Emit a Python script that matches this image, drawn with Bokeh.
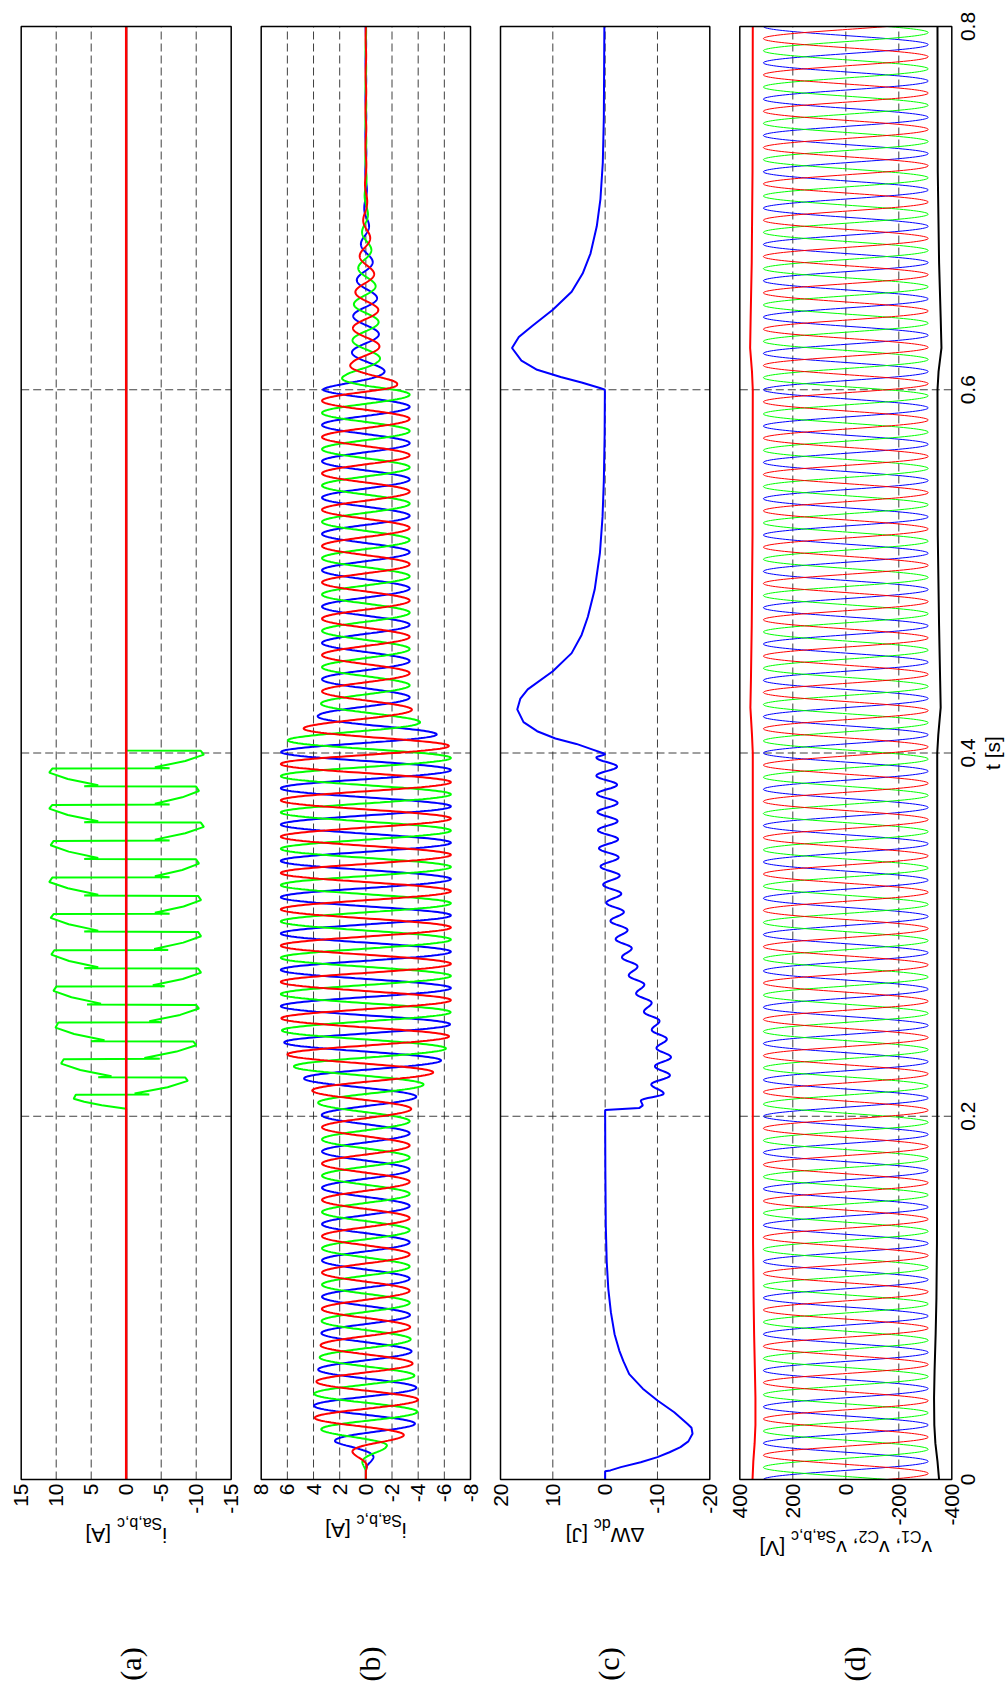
import math
import numpy as np
from bokeh.plotting import figure
from bokeh.models import Range1d
from bokeh.core.properties import value
from bokeh.embed import file_html
from bokeh.resources import INLINE

# ---------------- axes / ticks ----------------
t_ticks = [0, 0.2, 0.4, 0.6, 0.8]
t_tick_labels = ["0", "0.2", "0.4", "0.6", "0.8"]
a_ticks = [15, 10, 5, 0, -5, -10, -15]
b_ticks = [8, 6, 4, 2, 0, -2, -4, -6, -8]
c_ticks = [20, 10, 0, -10, -20]
d_ticks = [400, 200, 0, -200, -400]

# ---------------- (a) source currents ----------------
a_red_t = [0.0, 0.8]
a_red_v = [0.0, 0.0]
a_blue_t = [0.0, 0.8]
a_blue_v = [0.0, 0.0]
a_green_start = 0.2041
a_first_arc_t = [0.2060, 0.2080, 0.2096]
a_first_arc_v = [3.5, 6.0, 7.5]
a_jump_t = [0.2120, 0.2215, 0.2316, 0.2413, 0.2518, 0.2615, 0.2716, 0.2815, 0.2916,
            0.3017, 0.3115, 0.3215, 0.3316, 0.3417, 0.3518, 0.3619, 0.3716, 0.3817, 0.3916]
a_green_end = 0.4014
a_peak = [8.8, 9.3, 10.0, 10.1, 10.4, 10.4, 10.7, 10.7, 10.7, 10.8,
          10.7, 11.0, 10.4, 10.8, 11.1, 11.0, 10.4, 11.0, 11.1]
a_post = [3.3, 4.0, 4.8, 5.0, 5.0, 5.6, 5.5, 6.0, 6.0, 6.0,
          6.2, 6.0, 6.2, 6.0, 6.2, 6.0, 6.2, 6.0, 6.2]
a_hook = [1.2, 2.1, 2.6, 3.1, 3.3, 3.6, 3.8, 4.0, 4.0, 4.0,
          4.1, 4.0, 4.1, 4.0, 4.1, 4.0, 4.1, 4.0, 4.1]

# ---------------- (b) source currents: envelope ----------------
b_env_t = [0, 0.005, 0.008, 0.011, 0.014, 0.018, 0.0206, 0.0242, 0.027, 0.0297, 0.0334,
           0.04, 0.045, 0.053, 0.065, 0.08, 0.1, 0.2, 0.205, 0.213, 0.221, 0.226, 0.234,
           0.245, 0.26, 0.4, 0.405, 0.41, 0.416, 0.421, 0.43, 0.6, 0.603, 0.608, 0.615,
           0.63, 0.645, 0.66, 0.675, 0.69, 0.70, 0.72, 0.8]
b_env_amp = [0, 0, 0.2, 0.5, 0.9, 1.6, 2.3, 2.9, 3.35, 3.7, 3.9,
             3.95, 4.0, 3.8, 3.55, 3.4, 3.35, 3.35, 3.5, 4.0, 4.75, 5.4, 6.0,
             6.4, 6.5, 6.5, 6.3, 5.5, 4.3, 3.6, 3.35, 3.35, 2.5, 1.6, 1.1,
             1.0, 0.95, 0.7, 0.45, 0.25, 0.12, 0.04, 0.02]
b_freq = 50.0
b_delay = 0.0006

# ---------------- (c) dc-link energy deviation ----------------
c_start_t = [0, 0.0045, 0.005, 0.0068, 0.0095, 0.0123, 0.015, 0.0178, 0.021, 0.0252, 0.0285,
             0.0307, 0.037, 0.0435, 0.05, 0.058, 0.065, 0.071, 0.08, 0.092, 0.105, 0.12,
             0.14, 0.17, 0.2, 0.2035, 0.2045, 0.206, 0.2085]
c_start_v = [0, 0, -1.0, -3.0, -6.8, -10.0, -12.3, -14.4, -15.9, -16.7, -16.5,
             -15.7, -13.2, -10.0, -7.2, -4.6, -3.5, -2.7, -1.8, -1.1, -0.6, -0.3,
             -0.12, -0.04, 0, 0, -6.5, -7.2, -6.8]
c_ripple_t0 = 0.2125
c_ripple_step = 0.005
c_ripple_v = [-11.2, -8.8, -12.4, -9.5, -12.6, -9.8, -11.8, -8.9, -10.4, -7.4,
              -8.9, -5.9, -7.5, -4.5, -6.2, -3.2, -5.1, -2.0, -4.3, -1.0,
              -3.6, -0.2, -3.1, 0.4, -2.8, 0.9, -2.6, 1.2, -2.5, 1.4,
              -2.4, 1.5, -2.4, 1.6, -2.3, 1.7, -2.3, 1.7]
c_end_t = [0.3995, 0.4, 0.402, 0.405, 0.408, 0.412, 0.417, 0.424, 0.43, 0.435, 0.445, 0.455,
           0.465, 0.475, 0.49, 0.51, 0.53, 0.55, 0.575, 0.6, 0.601, 0.604, 0.607, 0.611,
           0.616, 0.623, 0.629, 0.635, 0.644, 0.654, 0.664, 0.675, 0.69, 0.705, 0.725,
           0.75, 0.8]
c_end_v = [0.0, 0.5, 2.5, 5.5, 9.5, 13.0, 15.6, 16.8, 16.2, 14.8, 10.0, 6.4,
           4.5, 3.3, 2.0, 1.0, 0.5, 0.25, 0.1, 0.05, 1.0, 4.5, 8.5, 13.0,
           16.0, 17.8, 16.5, 14.0, 10.0, 6.4, 4.3, 2.8, 1.6, 0.9, 0.45,
           0.25, 0.15]

# ---------------- (d) voltages ----------------
d_amp = 311.0
d_freq = 50.0
d_c1_t = [0, 0.01, 0.02, 0.03, 0.045, 0.06, 0.08, 0.1, 0.13, 0.2, 0.3, 0.4, 0.41, 0.425,
          0.44, 0.47, 0.52, 0.6, 0.61, 0.623, 0.64, 0.67, 0.72, 0.8]
d_c1_v = [352, 349, 344, 341, 341, 343, 346, 348, 350, 351, 351, 351, 354, 360,
          358, 355, 352, 351, 354, 361, 359, 355, 352, 351]
d_c2_v = [-352, -346, -338, -334, -333, -335, -339, -342, -344, -345, -345, -345, -349, -358,
          -356, -352, -347, -346, -350, -361, -358, -352, -347, -346]

# ---------------- texts ----------------
NB = "\u00a0"
captions = ["(a)", "(b)", "(c)", "(d)"]
ylabels = [
    [("i", 0), ("Sa,b,c", 1), (NB + "[A]", 0)],
    [("i", 0), ("Sa,b,c", 1), (NB + "[A]", 0)],
    [("\u0394W", 0), ("dc", 1), (NB + "[J]", 0)],
    [("v", 0), ("C1", 1), ("," + NB + "v", 0), ("C2", 1), ("," + NB + "v", 0), ("Sa,b,c", 1),
     (NB + "[V]", 0)],
]
t_label = "t [s]"

# ---------------- layout (pixels) ----------------
W, H = 1006, 1688
TOP_PX, BOT_PX = 26.0, 1479.0
panel_px = [(20.7, 230.7), (260.7, 470.0), (500.0, 709.3), (739.3, 951.3)]
panel_ticks = [a_ticks, b_ticks, c_ticks, d_ticks]
caption_dx = [4, 3.5, 3, 9]
label_main_base = [1534.5, 1530.0, 1535.0, 1547.5]
label_sub_base = [1523.0, 1519.5, 1523.5, 1536.0]
FONT = "Liberation Sans"
MAIN, SUB = 21, 16
ARIAL = {' ': 278, NB: 278, '[': 278, ']': 278, 'A': 667, 'i': 222, 'S': 667, 'a': 556,
         ',': 278, 'b': 556, 'c': 500, 'J': 500, 'W': 944, 'd': 556, 'v': 500, 'C': 722,
         '1': 556, '2': 556, 'V': 667, '\u0394': 668}


def tw(s, size):
    return sum(ARIAL.get(ch, 556) for ch in s) / 1000.0 * size


SPT = (t_ticks[-1] - t_ticks[0]) / (BOT_PX - TOP_PX)   # seconds per pixel


def py2t(py):
    return (BOT_PX - py) * SPT


def px2v(i, px):
    L, R = panel_px[i]
    v0, v1 = panel_ticks[i][0], panel_ticks[i][-1]
    return v0 + (px - L) * (v1 - v0) / (R - L)


def build_a_green():
    ts = [0.0, a_green_start] + a_first_arc_t + [a_jump_t[0] - 0.0002]
    vs = [0.0, 0.0] + a_first_arc_v + [7.2]
    n = len(a_jump_t)
    for k, tj in enumerate(a_jump_t):
        s = -1 if k % 2 == 0 else 1
        tn = a_jump_t[k + 1] if k + 1 < n else a_green_end
        P, po, h = a_peak[k], a_post[k], a_hook[k]
        ts += [tj, tj + 0.0005, tj + 0.004, tj + 0.0075, tn - 0.0002]
        vs += [s * po, s * h, s * (h + 0.62 * (P - h)), s * P, s * P * 0.96]
    ts += [a_green_end, 0.8]
    vs += [0.0, 0.0]
    return ts, vs


def build_c():
    ts = list(c_start_t)
    vs = list(c_start_v)
    ext_t = [c_start_t[-1]] + [c_ripple_t0 + c_ripple_step * k for k in range(len(c_ripple_v))] + [c_end_t[0]]
    ext_v = [c_start_v[-1]] + list(c_ripple_v) + [c_end_v[0]]
    for i in range(len(ext_t) - 1):
        for s in np.linspace(0, 1, 9)[1:]:
            ts.append(ext_t[i] + (ext_t[i + 1] - ext_t[i]) * s)
            vs.append(ext_v[i] + (ext_v[i + 1] - ext_v[i]) * (1 - math.cos(math.pi * s)) / 2)
    ts += c_end_t[1:]
    vs += c_end_v[1:]
    return ts, vs


names = ["default", "b", "c", "d"]
ranges = [Range1d(px2v(i, 0), px2v(i, W)) for i in range(4)]

p = figure(width=W, height=H, x_range=ranges[0], y_range=Range1d(py2t(H), py2t(0)),
           x_axis_location=None, y_axis_location=None, toolbar_location=None,
           output_backend="svg", min_border=0, min_border_left=0, min_border_right=0,
           min_border_top=0, min_border_bottom=0)
p.extra_x_ranges = {"b": ranges[1], "c": ranges[2], "d": ranges[3]}
p.outline_line_color = None
p.background_fill_color = "white"
p.border_fill_color = "white"
p.grid.visible = False

GRID = dict(line_color="#1e1e1e", line_dash="8 4", line_width=1, line_alpha=0.85)
for i in range(4):
    nm = names[i]
    ticks = panel_ticks[i]
    inner_v = ticks[1:-1]
    inner_t = t_ticks[1:-1]
    # dashed grid
    p.segment(x0=inner_v, y0=[t_ticks[0]] * len(inner_v), x1=inner_v, y1=[t_ticks[-1]] * len(inner_v),
              x_range_name=nm, **GRID)
    p.segment(x0=[ticks[0]] * len(inner_t), y0=inner_t, x1=[ticks[-1]] * len(inner_t), y1=inner_t,
              x_range_name=nm, **GRID)
    # value tick labels (below the box, rotated)
    p.text(x=ticks, y=[py2t(BOT_PX + 4)] * len(ticks), text=[str(v) for v in ticks],
           angle=math.pi / 2, text_align="right", text_baseline="middle",
           text_font=value(FONT), text_font_size="21px", text_color="black", x_range_name=nm)
    # upside-down axis label
    L, R = panel_px[i]
    pieces = ylabels[i]
    total = sum(tw(s, SUB if sub else MAIN) for s, sub in pieces)
    xcur = (L + R) / 2 + total / 2
    mx, mt, sx, st = [], [], [], []
    for s, sub in pieces:
        size = SUB if sub else MAIN
        if sub:
            sx.append(px2v(i, xcur)); st.append(s)
        else:
            mx.append(px2v(i, xcur)); mt.append(s)
        xcur -= tw(s, size)
    p.text(x=mx, y=[py2t(label_main_base[i])] * len(mx), text=mt, angle=math.pi,
           text_align="left", text_baseline="alphabetic", text_font=value(FONT),
           text_font_size=f"{MAIN}px", text_color="black", x_range_name=nm)
    p.text(x=sx, y=[py2t(label_sub_base[i])] * len(sx), text=st, angle=math.pi,
           text_align="left", text_baseline="alphabetic", text_font=value(FONT),
           text_font_size=f"{SUB}px", text_color="black", x_range_name=nm)
    # caption
    p.text(x=[px2v(i, (L + R) / 2 + caption_dx[i])], y=[py2t(1663.5)], text=[captions[i]],
           angle=math.pi / 2, text_align="center", text_baseline="middle",
           text_font=value("Liberation Serif"), text_font_size="30px", text_color="black",
           x_range_name=nm)

# ---------- panel (a)
gt, gv = build_a_green()
p.line(gv, gt, line_color="#00ff00", line_width=2)
p.line(a_blue_v, a_blue_t, line_color="#0000ff", line_width=2)
p.line(a_red_v, a_red_t, line_color="#ff0000", line_width=2.5)

# ---------- panel (b)
tb = np.arange(0, 0.8 + 1e-9, 0.0002)
env = np.interp(tb, b_env_t, b_env_amp)
ph = 2 * np.pi * b_freq * (tb - b_delay)
p.line(env * np.cos(ph), tb, line_color="#0000ff", line_width=2, x_range_name="b")
p.line(env * np.cos(ph - 2 * np.pi / 3), tb, line_color="#00ff00", line_width=2, x_range_name="b")
p.line(env * np.cos(ph + 2 * np.pi / 3), tb, line_color="#ff0000", line_width=2, x_range_name="b")

# ---------- panel (c)
ct, cv = build_c()
p.line(cv, ct, line_color="#0000ff", line_width=2, x_range_name="c")

# ---------- panel (d)
td = np.arange(0, 0.8 + 1e-9, 0.0002)
phd = 2 * np.pi * d_freq * td
p.line(d_amp * np.cos(phd), td, line_color="#0000ff", line_width=1, x_range_name="d")
p.line(d_amp * np.cos(phd - 2 * np.pi / 3), td, line_color="#00ff00", line_width=1, x_range_name="d")
p.line(d_amp * np.cos(phd + 2 * np.pi / 3), td, line_color="#ff0000", line_width=1, x_range_name="d")
p.line(d_c1_v, d_c1_t, line_color="#ff0000", line_width=2, x_range_name="d")
p.line(d_c2_v, d_c1_t, line_color="black", line_width=2, x_range_name="d")

# time tick labels and title on the right of panel (d)
p.text(x=[px2v(3, 967.5)] * len(t_ticks), y=t_ticks, text=t_tick_labels, angle=math.pi / 2,
       text_align="center", text_baseline="middle", text_font=value(FONT),
       text_font_size="21px", text_color="black", x_range_name="d")
p.text(x=[px2v(3, 992.0)], y=[t_ticks[2]], text=[t_label], angle=math.pi / 2,
       text_align="center", text_baseline="middle", text_font=value(FONT),
       text_font_size="21px", text_color="black", x_range_name="d")

# panel boxes (drawn last, on top)
for i in range(4):
    ticks = panel_ticks[i]
    p.quad(left=[ticks[0]], right=[ticks[-1]], bottom=[t_ticks[0]], top=[t_ticks[-1]],
           fill_color=None, line_color="black", line_width=1.5, x_range_name=names[i])

open("out.html", "w").write(file_html(p, INLINE))
